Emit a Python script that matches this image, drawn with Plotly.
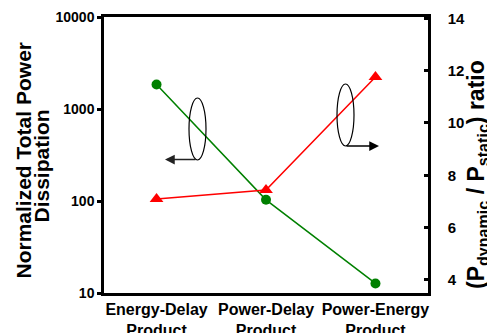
import plotly.graph_objects as go

categories = ["Energy-Delay<br>Product", "Power-Delay<br>Product", "Power-Energy<br>Product"]
total_power = [1850, 103, 12.7]          # left log axis (green)
dyn_static_ratio = [7.09, 7.44, 11.76]   # right linear axis (red)
left_ticks = [10, 100, 1000, 10000]
right_ticks = [4, 6, 8, 10, 12, 14]

FONT = "Liberation Sans, Arial, sans-serif"
OFF = 8  # page body margin in the browser
L, R, T, B = 104 - OFF, 428 - OFF, 17 - OFF, 293 - OFF
W, H = 495 - OFF, 333 - OFF

def px(x):
    return (x - OFF - L) / (R - L)

def py(y):
    return (B - (y - OFF)) / (B - T)

xs = [0, 1, 2]

fig = go.Figure()
fig.add_trace(go.Scatter(
    x=xs, y=total_power, mode="lines+markers",
    line=dict(color="#008000", width=1.5),
    marker=dict(color="#008000", size=10, symbol="circle"),
    yaxis="y", showlegend=False))
fig.add_trace(go.Scatter(
    x=xs, y=dyn_static_ratio, mode="lines+markers",
    line=dict(color="#ff0000", width=1.5),
    marker=dict(color="#ff0000", size=12, symbol="triangle-up"),
    yaxis="y2", showlegend=False))

shapes = [
    dict(type="circle", xref="paper", yref="paper",
         x0=px(189), x1=px(206), y0=py(160), y1=py(98),
         line=dict(color="black", width=1.2)),
    dict(type="circle", xref="paper", yref="paper",
         x0=px(337), x1=px(354), y0=py(146), y1=py(84),
         line=dict(color="black", width=1.2)),
]

annotations = [
    dict(xref="paper", yref="paper", x=px(165), y=py(159.5), ax=32, ay=0,
         text="", showarrow=True, arrowhead=2, arrowsize=1.3, arrowwidth=1.5,
         arrowcolor="#222"),
    dict(xref="paper", yref="paper", x=px(379), y=py(146), ax=-34, ay=0,
         text="", showarrow=True, arrowhead=2, arrowsize=1.3, arrowwidth=1.5,
         arrowcolor="black"),
    dict(xref="paper", yref="paper", x=px(22.5), y=py(160), textangle=-90,
         text="<b>Normalized Total Power</b>", showarrow=False,
         font=dict(size=21, family=FONT, color="black"),
         xanchor="center", yanchor="middle"),
    dict(xref="paper", yref="paper", x=px(40.5), y=py(166), textangle=-90,
         text="<b>Dissipation</b>", showarrow=False,
         font=dict(size=21, family=FONT, color="black"),
         xanchor="center", yanchor="middle"),
    dict(xref="paper", yref="paper", x=px(477), y=py(175), textangle=-90,
         text="<b>(P<sub>dynamic</sub> / P<sub>static</sub>) ratio</b>", showarrow=False,
         font=dict(size=23, family=FONT, color="black"),
         xanchor="center", yanchor="middle"),
]

fig.update_layout(
    width=W, height=H,
    margin=dict(l=L, r=W - R, t=T, b=H - B),
    paper_bgcolor="white", plot_bgcolor="white",
    font=dict(family=FONT, color="black"),
    shapes=shapes, annotations=annotations,
    xaxis=dict(
        tickmode="array", tickvals=xs, ticktext=[f"<b>{c}</b>" for c in categories],
        range=[-0.48, 2.48], showline=True, linecolor="black", linewidth=2.5,
        mirror=True, ticks="", showgrid=False, zeroline=False, automargin=False,
        tickfont=dict(size=16, family=FONT)),
    yaxis=dict(
        type="log", range=[1, 4], tickvals=left_ticks,
        ticktext=[f"<b>{v}</b>" for v in left_ticks],
        showline=True, linecolor="black", linewidth=2.5,
        ticks="outside", ticklen=4, tickwidth=2.5, tickcolor="black",
        showgrid=False, zeroline=False, automargin=False,
        tickfont=dict(size=14, family=FONT)),
    yaxis2=dict(
        overlaying="y", side="right", range=[3.5, 14.05], tickvals=right_ticks,
        ticktext=[f"<b>{v}</b>" for v in right_ticks],
        showline=True, linecolor="black", linewidth=2.5,
        ticks="inside", ticklen=4, tickwidth=2.5, tickcolor="black",
        showgrid=False, zeroline=False, automargin=False, ticklabelstandoff=14,
        tickfont=dict(size=15, family=FONT)),
)

fig.write_html("out.html")
